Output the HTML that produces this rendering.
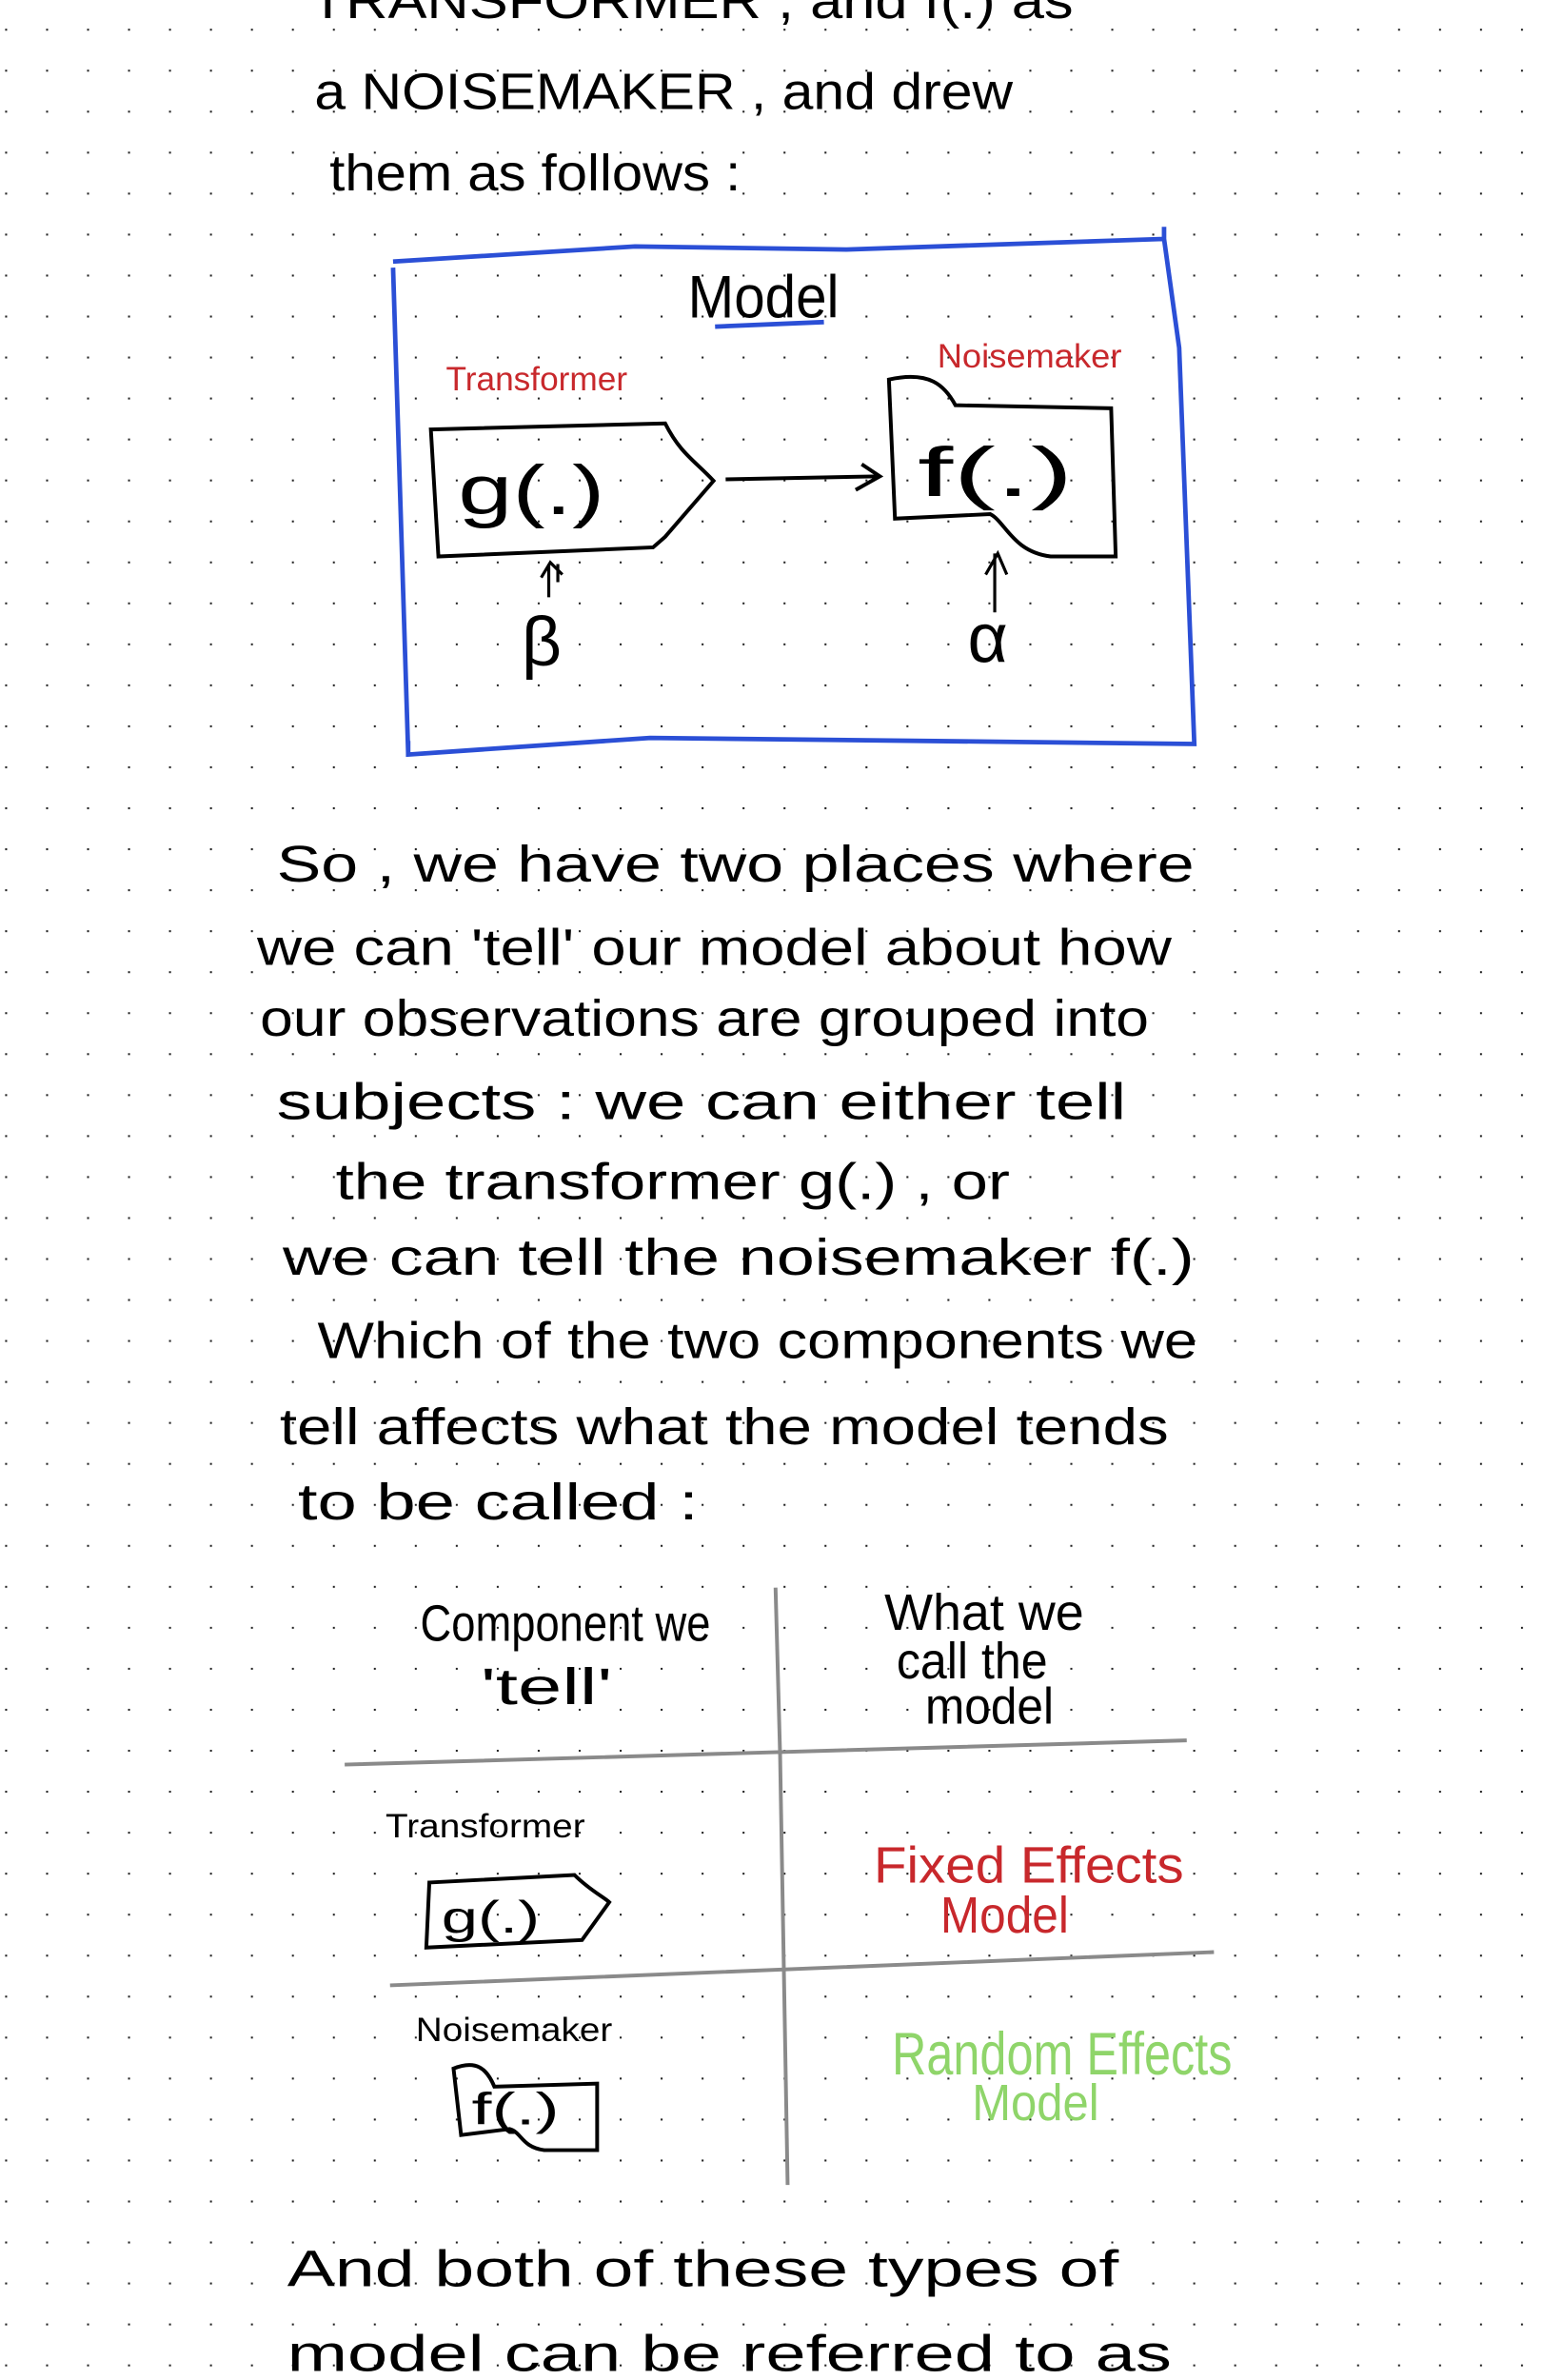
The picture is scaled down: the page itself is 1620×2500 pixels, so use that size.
<!DOCTYPE html>
<html><head><meta charset="utf-8"><style>
html,body{margin:0;padding:0;background:#fff}
svg{display:block}
text{font-family:"Liberation Sans",sans-serif;fill:#000}
.h{font-size:34px}
.s{font-size:22px}
</style></head><body>
<svg width="1620" height="2500" viewBox="0 0 1020 1574" preserveAspectRatio="none" xmlns="http://www.w3.org/2000/svg">
<defs><pattern id="d" x="3.4" y="19" width="27.1" height="27.1" patternUnits="userSpaceOnUse"><rect x="0" y="0" width="1.3" height="1.3" fill="#222"/></pattern></defs>
<rect width="1020" height="1574" fill="#fff"/>
<rect width="1020" height="1574" fill="url(#d)"/>

<g class="h">
<text x="205" y="12" textLength="505" lengthAdjust="spacingAndGlyphs">TRANSFORMER , and  f(.)  as</text>
<text x="208" y="72" textLength="462" lengthAdjust="spacingAndGlyphs">a  NOISEMAKER ,  and  drew</text>
<text x="218" y="126" textLength="272" lengthAdjust="spacingAndGlyphs">them  as  follows :</text>

<text x="183" y="583" textLength="607" lengthAdjust="spacingAndGlyphs">So ,  we  have  two  places  where</text>
<text x="170" y="638" textLength="605" lengthAdjust="spacingAndGlyphs">we  can  'tell'  our  model  about  how</text>
<text x="172" y="685" textLength="588" lengthAdjust="spacingAndGlyphs">our  observations  are  grouped  into</text>
<text x="183" y="740" textLength="562" lengthAdjust="spacingAndGlyphs">subjects :  we   can   either  tell</text>
<text x="222" y="793" textLength="446" lengthAdjust="spacingAndGlyphs">the  transformer  g(.) ,  or</text>
<text x="187" y="843" textLength="603" lengthAdjust="spacingAndGlyphs">we  can  tell  the  noisemaker  f(.)</text>
<text x="210" y="898" textLength="582" lengthAdjust="spacingAndGlyphs">Which  of  the  two  components  we</text>
<text x="185" y="955" textLength="588" lengthAdjust="spacingAndGlyphs">tell  affects  what  the  model  tends</text>
<text x="197" y="1005" textLength="265" lengthAdjust="spacingAndGlyphs">to  be  called :</text>

<text x="278" y="1085" textLength="192" lengthAdjust="spacingAndGlyphs">Component  we</text>
<text x="318" y="1127" textLength="87" lengthAdjust="spacingAndGlyphs">'tell'</text>
<text x="585" y="1078" textLength="132" lengthAdjust="spacingAndGlyphs">What  we</text>
<text x="593" y="1110" textLength="100" lengthAdjust="spacingAndGlyphs">call the</text>
<text x="612" y="1140" textLength="85" lengthAdjust="spacingAndGlyphs">model</text>

<text x="578" y="1245" textLength="205" lengthAdjust="spacingAndGlyphs" style="fill:#c8282c">Fixed Effects</text>
<text x="622" y="1278" textLength="85" lengthAdjust="spacingAndGlyphs" style="fill:#c8282c">Model</text>
<text x="590" y="1372" textLength="225" lengthAdjust="spacingAndGlyphs" style="fill:#8fd56a;font-size:40px">Random Effects</text>
<text x="643" y="1402" textLength="84" lengthAdjust="spacingAndGlyphs" style="fill:#8fd56a">Model</text>

<text x="190" y="1512" textLength="550" lengthAdjust="spacingAndGlyphs">And  both  of  these  types  of</text>
<text x="190" y="1568" textLength="585" lengthAdjust="spacingAndGlyphs">model  can  be  referred  to  as</text>
</g>

<!-- diagram -->
<path d="M260,173 L420,163 L560,165 L770,158 L770,150 M770,158 L780,230 L790,492 L430,488 L270,499 L270,490 M270,498 L260,177 Z" fill="none" stroke="#2b4fd6" stroke-width="3"/>
<text x="455" y="210" style="font-size:40px" textLength="100" lengthAdjust="spacingAndGlyphs">Model</text>
<path d="M473,216 L545,213" stroke="#2b4fd6" stroke-width="3"/>
<text x="295" y="258" class="s" textLength="120" lengthAdjust="spacingAndGlyphs" style="fill:#c8282c">Transformer</text>
<text x="620" y="243" class="s" textLength="122" lengthAdjust="spacingAndGlyphs" style="fill:#c8282c">Noisemaker</text>
<path d="M285,284 L440,280 C450,300 460,305 472,318 L440,355 L432,362 L290,368 Z" fill="none" stroke="#000" stroke-width="2.5"/>
<text x="303" y="340" style="font-size:46px" textLength="97" lengthAdjust="spacingAndGlyphs">g(.)</text>
<path d="M480,317 L582,315 M570,307 L582,315 L566,324" fill="none" stroke="#000" stroke-width="2.5"/>
<path d="M588,251 C615,245 625,255 632,268 L735,270 L738,368 L695,368 C670,365 665,345 655,340 L592,343 Z" fill="none" stroke="#000" stroke-width="2.5"/>
<text x="607" y="328" style="font-size:46px" textLength="103" lengthAdjust="spacingAndGlyphs">f(.)</text>
<path d="M363,395 L363,373 M369,385 L369,373 M358,382 L364,372 L372,380" fill="none" stroke="#000" stroke-width="2"/>
<text x="345" y="440" style="font-size:46px">β</text>
<path d="M658,405 L658,366 M652,380 L660,366 L666,380" fill="none" stroke="#000" stroke-width="2"/>
<text x="640" y="438" style="font-size:46px">α</text>

<!-- table -->
<path d="M513,1050 L516,1160 L521,1445" stroke="#8a8a8a" stroke-width="2.5" fill="none"/>
<path d="M228,1167 L785,1151 M258,1313 L803,1291" stroke="#8a8a8a" stroke-width="2.5"/>
<text x="255" y="1215" class="s" textLength="132" lengthAdjust="spacingAndGlyphs">Transformer</text>
<path d="M284,1245 L380,1240 C390,1250 400,1255 403,1258 L385,1283 L282,1288 Z" fill="none" stroke="#000" stroke-width="2.5"/>
<text x="292" y="1278" style="font-size:30px" textLength="65" lengthAdjust="spacingAndGlyphs">g(.)</text>
<text x="275" y="1350" class="s" textLength="130" lengthAdjust="spacingAndGlyphs">Noisemaker</text>
<path d="M300,1368 C315,1362 322,1368 327,1380 L395,1378 L395,1422 L360,1422 C345,1420 345,1410 337,1408 L305,1412 Z" fill="none" stroke="#000" stroke-width="2.5"/>
<text x="312" y="1405" style="font-size:30px" textLength="58" lengthAdjust="spacingAndGlyphs">f(.)</text>
</svg>
</body></html>
